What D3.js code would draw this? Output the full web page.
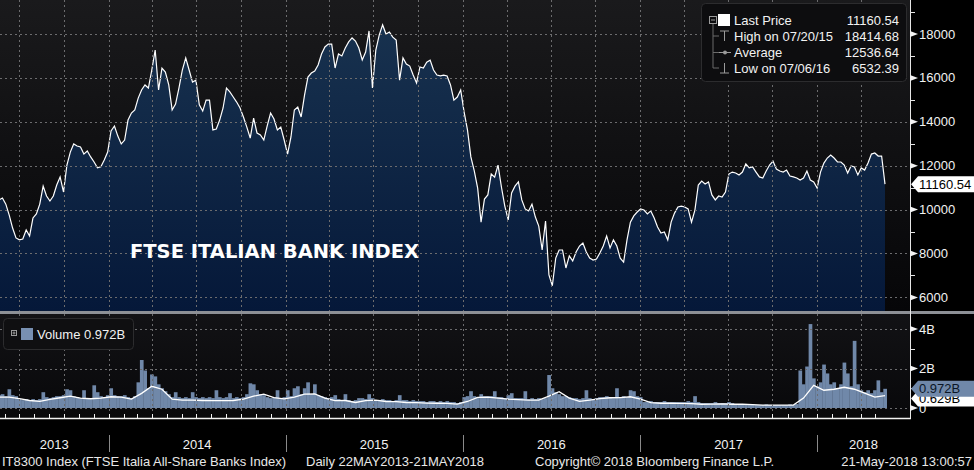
<!DOCTYPE html>
<html lang="en">
<head>
<meta charset="UTF-8">
<title>FTSE Italian Bank Index</title>
<script src="https://d3js.org/d3.v7.min.js"></script>
<style>
  body { margin: 0; background: #000; }
  svg text { font-family: "Liberation Sans", Arial, sans-serif; }
</style>
</head>
<body>
<div id="chart"></div>
<script>
// period shown on the chart
const startDate = new Date(2013, 4, 22);
const endDate = new Date(2018, 4, 21);

// weekly closes, oldest first, last one is 21 May 2018
const closes = [
  10440, 10530, 10250, 9750, 9160, 8710, 8620, 8660, 9070, 8800,
  9620, 9800, 10250, 11070, 10620, 10390, 10620, 11120, 11490, 10800,
  12030, 12620, 12990, 12900, 12850, 12530, 12670, 12400, 12170, 11900,
  11950, 12260, 12620, 13580, 13810, 13350, 12990, 13170, 14080, 14400,
  14540, 15080, 15450, 15680, 15540, 16360, 17270, 15450, 16450, 16270,
  15680, 14540, 14810, 15540, 16360, 16910, 16360, 15810, 15900, 14770,
  14490, 14990, 14990, 13630, 13670, 14080, 14630, 15540, 15360, 15130,
  14900, 14630, 14220, 13760, 13260, 14170, 13490, 13400, 13170, 13810,
  14400, 14130, 13630, 13760, 13170, 12530, 13310, 14540, 14670, 14220,
  15220, 16040, 16220, 16310, 16590, 17090, 17410, 17540, 17540, 16450,
  17090, 17000, 17360, 17640, 17820, 17680, 17360, 16820, 17180, 18140,
  15540, 17270, 17950, 18414.68, 18000, 18090, 17860, 17730, 15900, 16910,
  16630, 16540, 16130, 15770, 16500, 16450, 16720, 16810, 16360, 16130,
  16090, 16130, 16090, 15680, 14990, 15130, 15450, 14450, 13630, 12400,
  11760, 10980, 9430, 10480, 10670, 11620, 11480, 12030, 11030, 10160,
  9530, 10760, 11070, 11260, 10440, 10030, 9940, 10250, 9660, 9250,
  8160, 9480, 7020, 6532.39, 7790, 8160, 8160, 7340, 7890, 7660,
  8070, 8340, 8480, 8070, 7790, 7700, 7750, 8020, 8340, 8800,
  8250, 8620, 8340, 7790, 7610, 8620, 9430, 9710, 9890, 10030,
  9980, 9800, 9940, 9620, 9210, 8930, 8980, 8620, 9430, 9840,
  10120, 10160, 10120, 10030, 9430, 9980, 11120, 11300, 11170, 11260,
  10670, 10440, 10620, 10570, 10800, 11620, 11710, 11670, 11580, 11710,
  12080, 11900, 11940, 11710, 11490, 11440, 11760, 12030, 12210, 11850,
  11760, 11710, 11800, 11530, 11490, 11440, 11350, 11440, 11760, 11350,
  11260, 10980, 11710, 12120, 12350, 12490, 12350, 12170, 12170, 12030,
  11670, 11990, 11940, 11580, 11900, 11800, 12120, 12530, 12580, 12440,
  12440, 11160.54
];

// weekly volume in billions of shares
const volumes = [
  0.65, 0.7, 0.6, 0.95, 0.65, 0.6, 0.45, 0.4, 0.45, 0.4,
  0.45, 0.4, 0.45, 0.8, 0.55, 0.5, 0.55, 0.6, 0.6, 0.65,
  0.95, 0.9, 0.6, 0.55, 0.5, 0.9, 0.5, 0.45, 1.15, 0.8,
  0.6, 0.55, 0.65, 1.0, 0.65, 0.6, 0.6, 0.65, 0.55, 0.5,
  0.6, 1.3, 2.43, 1.9, 1.0, 1.7, 1.6, 1.2, 1.0, 0.85,
  0.7, 0.55, 0.8, 0.55, 0.5, 0.55, 0.5, 0.8, 0.55, 0.5,
  0.55, 0.5, 0.55, 0.5, 0.9, 0.55, 0.5, 0.55, 0.75, 0.5,
  0.55, 0.5, 0.55, 0.7, 1.25, 1.2, 0.9, 0.7, 0.65, 0.55,
  0.5, 0.55, 0.9, 0.5, 0.55, 0.9, 0.6, 1.0, 1.1, 0.7,
  1.0, 1.3, 0.7, 1.2, 0.65, 0.6, 0.55, 0.5, 0.55, 0.65,
  0.45, 0.4, 0.7, 0.4, 0.35, 0.4, 0.5, 0.5, 0.45, 0.7,
  0.5, 0.4, 0.4, 0.45, 0.4, 0.4, 0.35, 0.4, 0.65, 0.4,
  0.4, 0.35, 0.4, 0.35, 0.35, 0.35, 0.3, 0.35, 0.35, 0.3,
  0.35, 0.3, 0.35, 0.3, 0.3, 0.25, 0.3, 0.55, 0.6, 0.85,
  0.6, 0.55, 0.7, 0.6, 0.6, 0.6, 0.85, 0.55, 0.55, 0.5,
  0.65, 0.75, 0.5, 0.5, 0.5, 0.85, 0.45, 0.5, 0.45, 0.5,
  0.45, 0.5, 1.67, 1.0, 0.8, 0.7, 0.6, 0.6, 0.55, 0.5,
  0.5, 0.45, 0.5, 0.9, 0.5, 0.45, 0.5, 0.55, 0.55, 0.6,
  0.55, 0.5, 1.0, 0.55, 0.6, 0.55, 0.9, 0.85, 0.6, 0.55,
  0.3, 0.3, 0.35, 0.3, 0.3, 0.3, 0.35, 0.3, 0.3, 0.3,
  0.3, 0.3, 0.3, 0.35, 0.3, 0.6, 0.3, 0.25, 0.25, 0.25,
  0.25, 0.3, 0.25, 0.25, 0.25, 0.3, 0.25, 0.2, 0.2, 0.18,
  0.15, 0.15, 0.18, 0.15, 0.15, 0.15, 0.18, 0.15, 0.15, 0.15,
  0.15, 0.15, 0.15, 0.18, 0.15, 0.2, 1.9, 1.2, 2.1, 4.25,
  1.5, 1.1, 1.3, 2.2, 1.75, 1.2, 1.3, 1.0, 1.2, 2.3,
  1.75, 1.1, 3.4, 1.2, 0.9, 0.8, 0.9, 0.75, 0.9, 1.4,
  0.8, 0.972
];

// volume moving average, one value every 3 weeks
const volumeAvg = [
  0.55, 0.55, 0.48, 0.38, 0.34, 0.44, 0.52, 0.6, 0.5, 0.47,
  0.5, 0.57, 0.55, 0.45, 0.74, 1.1, 0.95, 0.45, 0.4, 0.4,
  0.38, 0.37, 0.37, 0.38, 0.45, 0.6, 0.7, 0.52, 0.46, 0.55,
  0.7, 0.72, 0.5, 0.37, 0.38, 0.28, 0.37, 0.4, 0.33, 0.32,
  0.28, 0.27, 0.25, 0.24, 0.23, 0.2, 0.33, 0.54, 0.55, 0.5,
  0.45, 0.42, 0.4, 0.4, 0.6, 0.83, 0.5, 0.34, 0.4, 0.47,
  0.52, 0.53, 0.57, 0.45, 0.27, 0.24, 0.24, 0.23, 0.22, 0.19,
  0.2, 0.21, 0.19, 0.19, 0.17, 0.15, 0.15, 0.15, 0.15, 0.5,
  1.15, 0.9, 0.95, 1.05, 0.95, 0.75, 0.55, 0.629
];
const avgStep = 3;

const priceTicks = [6000, 8000, 10000, 12000, 14000, 16000, 18000];
const priceMinor = [7000, 9000, 11000, 13000, 15000, 17000, 19000];
const volTicks = [0, 2, 4];
const volTickLabels = ["0", "2B", "4B"];
const volMinor = [1, 3];
const years = [2013, 2014, 2015, 2016, 2017, 2018];

const legendNames = ["Last Price", "High on 07/20/15", "Average", "Low on 07/06/16"];
const legendValues = ["11160.54", "18414.68", "12536.64", "6532.39"];
const lastPrice = "11160.54";
const lastVolume = "0.972B";
const lastAvg = "0.629B";

const width = 974, height = 470;
const plotRight = 910;
const mainBottom = 311, volTop = 314, volBottom = 418;

const svg = d3.select("#chart").append("svg")
  .attr("width", width).attr("height", height)
  .style("display", "block")
  .style("background", "#000");

const defs = svg.append("defs");
const bg = defs.append("linearGradient").attr("id", "bgMain").attr("x1", 0).attr("y1", 0).attr("x2", 0).attr("y2", 1);
bg.append("stop").attr("offset", "0%").attr("stop-color", "#1a1a1c");
bg.append("stop").attr("offset", "100%").attr("stop-color", "#060608");
const bgv = defs.append("linearGradient").attr("id", "bgVol").attr("x1", 0).attr("y1", 0).attr("x2", 0).attr("y2", 1);
bgv.append("stop").attr("offset", "0%").attr("stop-color", "#121215");
bgv.append("stop").attr("offset", "100%").attr("stop-color", "#08080a");
const ag = defs.append("linearGradient").attr("id", "areaFill")
  .attr("gradientUnits", "userSpaceOnUse").attr("x1", 0).attr("y1", 20).attr("x2", 0).attr("y2", mainBottom);
ag.append("stop").attr("offset", "0%").attr("stop-color", "#18324f");
ag.append("stop").attr("offset", "100%").attr("stop-color", "#051839");
defs.append("clipPath").attr("id", "clipMain").append("rect")
  .attr("x", 0).attr("y", 0).attr("width", plotRight).attr("height", mainBottom);
defs.append("clipPath").attr("id", "clipVol").append("rect")
  .attr("x", 0).attr("y", volTop).attr("width", plotRight).attr("height", volBottom - volTop);

// scales
const x = d3.scaleTime().domain([startDate, endDate]).range([0, 885]);
const yPrice = d3.scaleLinear().domain([5380, 19550]).range([mainBottom, 0]);
const yVol = d3.scaleLinear().domain([-0.506, 4.76]).range([volBottom, volTop]);

const weekDate = i => d3.timeDay.offset(endDate, -7 * (closes.length - 1 - i));
const priceData = closes.map((v, i) => ({ date: weekDate(i), value: v }));
const volData = volumes.map((v, i) => ({ date: weekDate(i), value: v }));
const avgData = volumeAvg.map((v, k) => ({ date: weekDate(k * avgStep), value: v }));

// panel backgrounds
svg.append("rect").attr("x", 0).attr("y", 0).attr("width", plotRight).attr("height", mainBottom).attr("fill", "url(#bgMain)");
svg.append("rect").attr("x", 0).attr("y", volTop).attr("width", plotRight).attr("height", volBottom - volTop).attr("fill", "url(#bgVol)");

// price area
const main = svg.append("g").attr("clip-path", "url(#clipMain)");
main.append("path").datum(priceData)
  .attr("fill", "url(#areaFill)")
  .attr("d", d3.area().x(d => x(d.date)).y0(mainBottom).y1(d => yPrice(d.value)));

// volume bars
const vol = svg.append("g").attr("clip-path", "url(#clipVol)");
const barW = x(weekDate(1)) - x(weekDate(0));
vol.selectAll("rect.bar").data(volData).enter().append("rect")
  .attr("class", "bar")
  .attr("x", d => x(d.date) - barW / 2)
  .attr("width", barW + 0.3)
  .attr("y", d => yVol(d.value))
  .attr("height", d => yVol(0) - yVol(d.value))
  .attr("fill", "#7088a9");

// grid
const quarters = d3.timeMonth.every(3).range(startDate, endDate);
const grid = svg.append("g").attr("stroke", "#6c6c6e").attr("stroke-dasharray", "2,3").attr("stroke-width", 1);
grid.selectAll("line.h").data(priceTicks).enter().append("line")
  .attr("x1", 0).attr("x2", plotRight)
  .attr("y1", d => Math.round(yPrice(d)) + 0.5).attr("y2", d => Math.round(yPrice(d)) + 0.5);
grid.selectAll("line.hv").data(volTicks).enter().append("line")
  .attr("x1", 0).attr("x2", plotRight)
  .attr("y1", d => Math.round(yVol(d)) + 0.5).attr("y2", d => Math.round(yVol(d)) + 0.5);
grid.selectAll("line.v").data(quarters).enter().append("line")
  .attr("x1", d => Math.round(x(d)) + 0.5).attr("x2", d => Math.round(x(d)) + 0.5)
  .attr("y1", 0).attr("y2", mainBottom);
grid.selectAll("line.vv").data(quarters).enter().append("line")
  .attr("x1", d => Math.round(x(d)) + 0.5).attr("x2", d => Math.round(x(d)) + 0.5)
  .attr("y1", volTop).attr("y2", volBottom);

// price line
main.append("path").datum(priceData)
  .attr("fill", "none").attr("stroke", "#fff").attr("stroke-width", 1.2)
  .attr("d", d3.line().x(d => x(d.date)).y(d => yPrice(d.value)));

// volume average line
vol.append("path").datum(avgData)
  .attr("fill", "none").attr("stroke", "#fff").attr("stroke-width", 1.3)
  .attr("d", d3.line().x(d => x(d.date)).y(d => yVol(d.value)));

// panel separator
svg.append("rect").attr("x", 0).attr("y", mainBottom).attr("width", width).attr("height", volTop - mainBottom).attr("fill", "#8d9096");

// right axis
svg.append("line").attr("x1", plotRight + 0.5).attr("x2", plotRight + 0.5).attr("y1", 0).attr("y2", volBottom)
  .attr("stroke", "#e6e6e6").attr("stroke-width", 1);

function majorTicks(values, scale, labels) {
  const g = svg.append("g");
  g.selectAll("path").data(values).enter().append("path")
    .attr("d", d => { const y = scale(d); return `M${plotRight},${y - 3}L${plotRight + 8},${y}L${plotRight},${y + 3}Z`; })
    .attr("fill", "#f2f2f2");
  g.selectAll("text").data(values).enter().append("text")
    .attr("x", plotRight + 9).attr("y", d => scale(d) + 4.5)
    .attr("font-size", 13).attr("fill", "#f2f2f2")
    .text((d, i) => labels ? labels[i] : d);
}
function minorTicks(values, scale) {
  svg.append("g").selectAll("line").data(values).enter().append("line")
    .attr("x1", plotRight).attr("x2", plotRight + 5)
    .attr("y1", d => Math.round(scale(d)) + 0.5).attr("y2", d => Math.round(scale(d)) + 0.5)
    .attr("stroke", "#e6e6e6");
}
majorTicks(priceTicks, yPrice);
minorTicks(priceMinor, yPrice);
majorTicks(volTicks, yVol, volTickLabels);
minorTicks(volMinor, yVol);

// value tags on the axis
function tag(yc, fill, txt, textFill) {
  const g = svg.append("g");
  g.append("path")
    .attr("d", `M${plotRight + 1},${yc}L${plotRight + 8},${yc - 8}L${width},${yc - 8}L${width},${yc + 8}L${plotRight + 8},${yc + 8}Z`)
    .attr("fill", fill);
  g.append("text").attr("x", plotRight + 9).attr("y", yc + 4.5)
    .attr("font-size", 13).attr("fill", textFill).text(txt);
}
tag(yPrice(closes[closes.length - 1]), "#ffffff", lastPrice, "#000");
tag(yVol(volumeAvg[volumeAvg.length - 1]) + 3, "#ffffff", lastAvg, "#000");
tag(yVol(volumes[volumes.length - 1]), "#7088a9", lastVolume, "#0b1626");

// bottom time axis
svg.append("line").attr("x1", 0).attr("x2", plotRight + 1).attr("y1", volBottom + 0.5).attr("y2", volBottom + 0.5)
  .attr("stroke", "#f2f2f2").attr("stroke-width", 1.5);
svg.append("g").selectAll("line").data(d3.timeMonth.range(startDate, endDate)).enter().append("line")
  .attr("x1", d => Math.round(x(d)) + 0.5).attr("x2", d => Math.round(x(d)) + 0.5)
  .attr("y1", volBottom - 4).attr("y2", volBottom)
  .attr("stroke", "#f2f2f2");

const yearStarts = years.slice(1).map(y => new Date(y, 0, 1));
svg.append("g").selectAll("line").data(yearStarts).enter().append("line")
  .attr("x1", d => Math.round(x(d)) + 0.5).attr("x2", d => Math.round(x(d)) + 0.5)
  .attr("y1", 435).attr("y2", 452)
  .attr("stroke", "#8a8a8a");
svg.append("g").selectAll("text").data(years).enter().append("text")
  .attr("x", d => {
    const a = Math.max(0, x(new Date(d, 0, 1)));
    const b = Math.min(plotRight, x(new Date(d + 1, 0, 1)));
    return (a + b) / 2;
  })
  .attr("y", 449).attr("text-anchor", "middle")
  .attr("font-size", 13).attr("fill", "#f2f2f2")
  .text(d => d);

// footer
const footer = svg.append("g").attr("font-size", 13).attr("fill", "#e8e8e8");
footer.append("text").attr("x", 2).attr("y", 466).text("IT8300 Index (FTSE Italia All-Share Banks Index)");
footer.append("text").attr("x", 306).attr("y", 466).text("Daily 22MAY2013-21MAY2018");
footer.append("text").attr("x", 535).attr("y", 466).text("Copyright© 2018 Bloomberg Finance L.P.");
footer.append("text").attr("x", 972).attr("y", 466).attr("text-anchor", "end").text("21-May-2018 13:00:57");

// title inside the plot
svg.append("text").attr("x", 130).attr("y", 258)
  .style("font-family", "'DejaVu Sans', Verdana, sans-serif")
  .attr("font-weight", "bold").attr("font-size", 19.5).attr("fill", "#fff")
  .text("FTSE ITALIAN BANK INDEX");

// price legend box
const lg = svg.append("g");
lg.append("rect").attr("x", 701.5).attr("y", 3.5).attr("width", 205).attr("height", 78).attr("rx", 4)
  .attr("fill", "#0d0d0f").attr("stroke", "#2c2c2e");
const rowY = [20.5, 36, 52.5, 68];
// collapse box and tree lines
lg.append("rect").attr("x", 709.5).attr("y", 16.5).attr("width", 7).attr("height", 7).attr("fill", "none").attr("stroke", "#9a9a9a");
lg.append("line").attr("x1", 711).attr("x2", 715).attr("y1", 20).attr("y2", 20).attr("stroke", "#9a9a9a");
lg.append("line").attr("x1", 713).attr("x2", 713).attr("y1", 24).attr("y2", rowY[3]).attr("stroke", "#6a6a6a");
lg.selectAll("line.branch").data(rowY.slice(1)).enter().append("line")
  .attr("x1", 713).attr("x2", 719).attr("y1", d => d).attr("y2", d => d).attr("stroke", "#6a6a6a");
lg.append("rect").attr("x", 718).attr("y", 14).attr("width", 12).attr("height", 12).attr("fill", "#fff");
// high, average, low markers
lg.append("path").attr("d", `M720,${rowY[1] - 5}H729M724.5,${rowY[1] - 5}V${rowY[1] + 5}`).attr("stroke", "#9a9a9a").attr("fill", "none");
lg.append("path").attr("d", `M719,${rowY[2]}H731`).attr("stroke", "#9a9a9a");
lg.append("circle").attr("cx", 725).attr("cy", rowY[2]).attr("r", 2).attr("fill", "#9a9a9a");
lg.append("path").attr("d", `M720,${rowY[3] + 5}H729M724.5,${rowY[3] - 5}V${rowY[3] + 5}`).attr("stroke", "#9a9a9a").attr("fill", "none");
lg.selectAll("text.name").data(legendNames).enter().append("text")
  .attr("x", 734).attr("y", (d, i) => rowY[i] + 4.8)
  .attr("font-size", 13).attr("fill", "#f2f2f2").text(d => d);
lg.selectAll("text.val").data(legendValues).enter().append("text")
  .attr("x", 899).attr("y", (d, i) => rowY[i] + 4.8).attr("text-anchor", "end")
  .attr("font-size", 13).attr("fill", "#f2f2f2").text(d => d);

// volume legend box
const vl = svg.append("g");
vl.append("rect").attr("x", 3.5).attr("y", 318.5).attr("width", 130).attr("height", 31).attr("rx", 4)
  .attr("fill", "#0f0f11").attr("stroke", "#2c2c2e");
vl.append("rect").attr("x", 11.5).attr("y", 330.5).attr("width", 5).attr("height", 5).attr("fill", "none").attr("stroke", "#9a9a9a");
vl.append("path").attr("d", "M12.5,333H15.5M14,331.5V334.5").attr("stroke", "#9a9a9a");
vl.append("rect").attr("x", 21).attr("y", 328).attr("width", 12).attr("height", 12).attr("fill", "#7890b2");
vl.append("text").attr("x", 37).attr("y", 339).attr("font-size", 13).attr("fill", "#f2f2f2")
  .text("Volume " + lastVolume);
</script>
</body>
</html>
